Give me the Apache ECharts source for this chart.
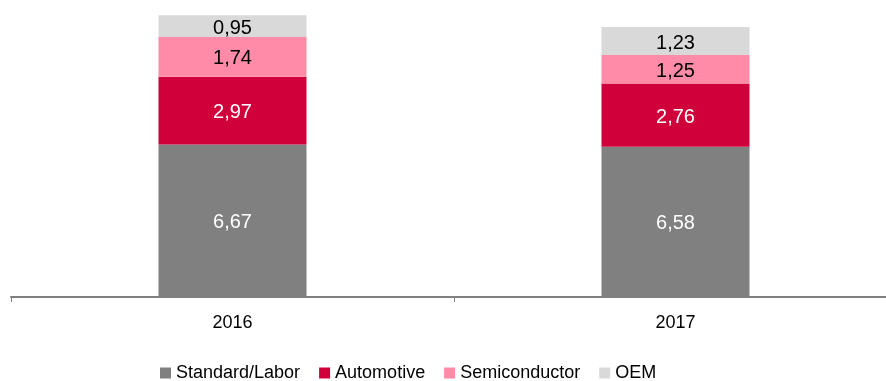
<!DOCTYPE html>
<html>
<head>
<meta charset="utf-8">
<script src="https://cdn.jsdelivr.net/npm/echarts@6/dist/echarts.min.js"></script>
<style>
  html, body { margin: 0; padding: 0; background: #fff; }
  #chart { width: 886px; height: 381px; }
</style>
</head>
<body>
<div id="chart"></div>
<script>
const years = ['2016', '2017'];
const standardLabor = [6.67, 6.58];
const automotive = [2.97, 2.76];
const semiconductor = [1.74, 1.25];
const oem = [0.95, 1.23];

const font = '"Liberation Sans", Arial, sans-serif';
const fmt = p => p.value.toFixed(2).replace('.', ',');

const mkSeries = (name, data, color, labelColor) => ({
  name: name,
  type: 'bar',
  stack: 'total',
  data: data,
  barWidth: 148,
  itemStyle: { color: color },
  label: {
    show: true,
    position: 'inside',
    offset: [0, 2],
    formatter: fmt,
    color: labelColor,
    fontFamily: font,
    fontSize: 20
  }
});

const myChart = echarts.init(document.getElementById('chart'));
myChart.setOption({
  animation: false,
  grid: { left: 11, top: 0, width: 886, bottom: 84, containLabel: false, outerBoundsMode: 'none' },
  legend: {
    left: 155,
    top: 359,
    itemWidth: 11,
    itemHeight: 11,
    itemGap: 19,
    icon: 'rect',
    textStyle: { fontFamily: font, fontSize: 18, color: '#000' },
    data: ['Standard/Labor', 'Automotive', 'Semiconductor', 'OEM']
  },
  xAxis: {
    type: 'category',
    data: years,
    axisLine: { lineStyle: { color: '#808080', width: 2 } },
    axisTick: { show: true, length: 5, lineStyle: { color: '#808080' } },
    axisLabel: { fontFamily: font, fontSize: 18, color: '#000', margin: 17 }
  },
  yAxis: {
    type: 'value',
    min: 0,
    max: 13,
    show: false,
    splitLine: { show: false }
  },
  series: [
    mkSeries('Standard/Labor', standardLabor, '#808080', '#fff'),
    mkSeries('Automotive', automotive, '#D0003A', '#fff'),
    mkSeries('Semiconductor', semiconductor, '#FF8BA8', '#000'),
    mkSeries('OEM', oem, '#D9D9D9', '#000')
  ]
});
</script>
</body>
</html>
